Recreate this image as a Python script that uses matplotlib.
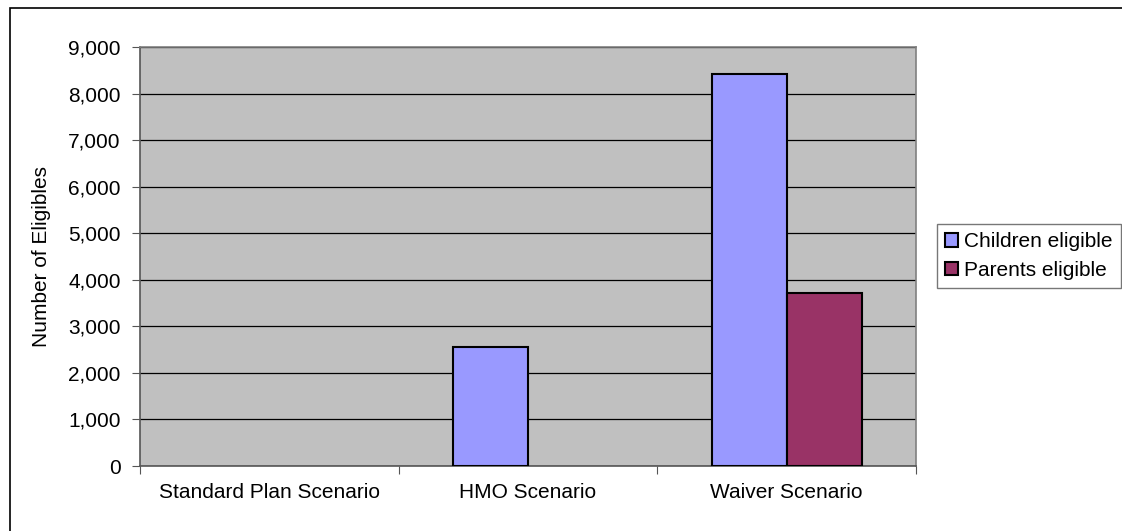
import numpy as np
import matplotlib
matplotlib.use('Agg')
from matplotlib import pyplot as plt
from matplotlib.patches import Rectangle
from matplotlib.ticker import FuncFormatter, FixedLocator, NullFormatter

plt.rcParams['font.family'] = ['Liberation Sans', 'DejaVu Sans']

# chart data
scenarios = ['Standard Plan Scenario', 'HMO Scenario', 'Waiver Scenario']
children = [0, 2550, 8420]
parents = [0, 0, 3710]
series_names = ['Children eligible', 'Parents eligible']
colors = ['#9999FF', '#993366']

FS = 15

fig = plt.figure(figsize=(11.22, 5.31), dpi=100)
# axes placed in pixel coordinates of the original (x 140..915, y 47..466)
W, H = 1122, 531
ax = fig.add_axes([140 / W, 1 - 466 / H, 776 / W, 419 / H])
ax.set_facecolor('#C0C0C0')

x = np.arange(len(scenarios))
bw = 0.29
# zero-height bars get no outline, as in the original
for vals, off, col, name in [(children, -bw / 2, colors[0], series_names[0]),
                             (parents, bw / 2, colors[1], series_names[1])]:
    edges = ['black' if v > 0 else 'none' for v in vals]
    ax.bar(x + off, vals, bw, color=col, edgecolor=edges, linewidth=1.5,
           label=name, zorder=3)

ax.set_xlim(-0.5, 2.5)
ax.set_ylim(0, 9000)
ax.set_yticks(np.arange(0, 9001, 1000))
ax.yaxis.set_major_formatter(FuncFormatter(lambda v, p: '{:,.0f}'.format(v)))
ax.grid(axis='y', color='black', linewidth=0.9, zorder=1)

# category labels centred, tick marks on category boundaries
ax.xaxis.set_major_locator(FixedLocator([-0.5, 0.5, 1.5, 2.5]))
ax.xaxis.set_major_formatter(NullFormatter())
ax.xaxis.set_minor_locator(FixedLocator(x))
ax.set_xticklabels(scenarios, minor=True)
ax.tick_params(axis='x', which='minor', length=0, pad=12, labelsize=FS)
ax.tick_params(axis='x', which='major', length=6, direction='out', color='#555555')
ax.tick_params(axis='y', length=6, direction='out', labelsize=FS, color='#555555', pad=8)

for s in ax.spines.values():
    s.set_color('#808080')
    s.set_linewidth(1.2)
ax.spines['bottom'].set_color('#555555')
ax.spines['left'].set_color('#555555')

ax.set_ylabel('Number of Eligibles', fontsize=FS, labelpad=12)

leg = fig.legend(loc='upper left', bbox_to_anchor=(937 / W, 1 - 224 / H),
                 frameon=True, fancybox=False, fontsize=FS,
                 handlelength=0.6, handleheight=0.6, handletextpad=0.3,
                 borderpad=0.4, labelspacing=0.45, borderaxespad=0)
leg.get_frame().set_edgecolor('#555555')
leg.get_frame().set_linewidth(1.0)
for h in leg.legend_handles:
    h.set_edgecolor('black')
    h.set_linewidth(1.5)

# outer chart border (right and bottom edges fall outside the image)
fig.patches.append(Rectangle((9.5 / W, -20 / H), 1130 / W, (531 - 8 + 20) / H,
                             transform=fig.transFigure, fill=False,
                             edgecolor='black', linewidth=1.2))

fig.savefig('out.png', dpi=100)
